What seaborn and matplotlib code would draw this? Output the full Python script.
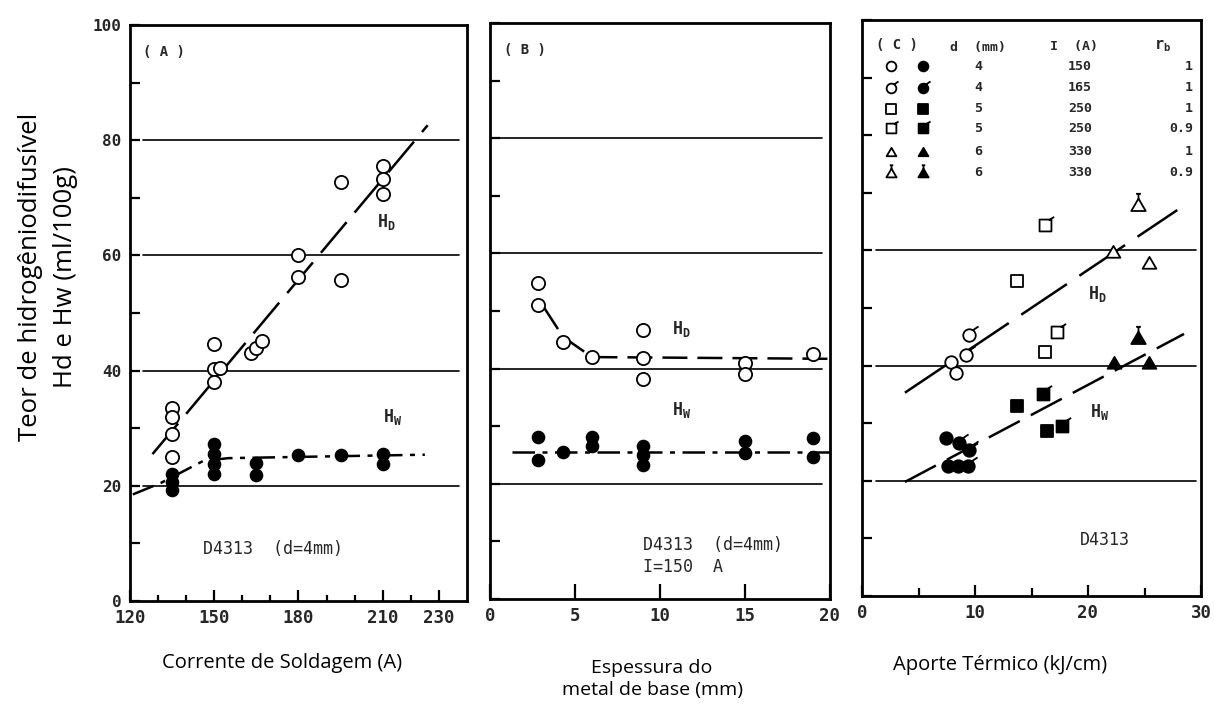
import numpy as np
import pandas as pd
import matplotlib
matplotlib.use("Agg")
import matplotlib.pyplot as plt
import seaborn as sns
from matplotlib.path import Path
from matplotlib.markers import MarkerStyle
from matplotlib.ticker import FixedLocator

# ---------------- Panel A : welding current ----------------
a_hd_x = [135, 135, 135, 135, 150, 150, 150, 152, 163, 165, 167, 180, 180, 195, 195, 210, 210, 210]
a_hd_y = [33.5, 32.0, 29.0, 25.0, 44.7, 40.3, 38.0, 40.5, 43.0, 44.0, 45.2, 60.0, 56.2, 72.8, 55.8, 75.6, 73.3, 70.6]
a_hw_x = [135, 135, 135, 150, 150, 150, 150, 165, 165, 180, 195, 210, 210]
a_hw_y = [22.1, 20.7, 19.3, 27.2, 25.5, 23.8, 22.0, 23.9, 21.9, 25.4, 25.4, 25.6, 23.7]
a_hd_line_x = [128, 226]
a_hd_line_y = [25.5, 82.6]
a_hw_line_x = [121, 131, 146, 155, 225]
a_hw_line_y = [18.5, 20.5, 24.3, 24.8, 25.4]

# ---------------- Panel B : base metal thickness ----------------
b_hd_x = [2.8, 2.8, 4.3, 6.0, 9.0, 9.0, 9.0, 15.0, 15.0, 19.0]
b_hd_y = [54.9, 51.0, 44.7, 42.0, 46.7, 41.8, 38.2, 40.9, 39.1, 42.5]
b_hw_x = [2.8, 2.8, 4.3, 6.0, 6.0, 9.0, 9.0, 9.0, 15.0, 15.0, 19.0, 19.0]
b_hw_y = [28.2, 24.2, 25.6, 28.2, 26.5, 26.5, 25.0, 23.2, 27.4, 25.4, 28.0, 24.7]
b_hd_line_x = [3.2, 4.3, 6.0, 20.0]
b_hd_line_y = [50.5, 45.5, 42.0, 41.7]
b_hw_line_x = [1.3, 20.0]
b_hw_line_y = [25.5, 25.5]

# ---------------- Panel C : heat input ----------------
c_circ_open_x = [7.9, 8.3]
c_circ_open_y = [40.7, 38.8]
c_circtick_open_x = [9.5, 9.2]
c_circtick_open_y = [45.3, 41.9]
c_sq_open_x = [13.7, 16.2]
c_sq_open_y = [54.7, 42.4]
c_sqtick_open_x = [16.2, 17.3]
c_sqtick_open_y = [64.4, 45.8]
c_tri_open_x = [22.2, 25.4]
c_tri_open_y = [59.8, 57.8]
c_tristem_open_x = [24.4]
c_tristem_open_y = [67.9]

c_circ_fill_x = [7.4, 7.6, 8.5]
c_circ_fill_y = [27.4, 22.6, 22.6]
c_circtick_fill_x = [8.6, 9.5, 9.4]
c_circtick_fill_y = [26.5, 25.3, 22.6]
c_sq_fill_x = [13.7, 16.4]
c_sq_fill_y = [33.0, 28.7]
c_sqtick_fill_x = [16.0, 17.7]
c_sqtick_fill_y = [35.0, 29.6]
c_tri_fill_x = [22.3, 25.4]
c_tri_fill_y = [40.5, 40.5]
c_tristem_fill_x = [24.4]
c_tristem_fill_y = [44.8]

c_hd_line_x = [3.8, 27.9]
c_hd_line_y = [35.3, 67.0]
c_hw_line_x = [3.8, 28.5]
c_hw_line_y = [19.8, 45.5]

# legend table of panel C
leg_d = ["4", "4", "5", "5", "6", "6"]
leg_I = ["150", "165", "250", "250", "330", "330"]
leg_rb = ["1", "1", "1", "0.9", "1", "0.9"]

# tick labels
a_xticks = [120, 150, 180, 210, 230]
b_xticks = [0, 5, 10, 15, 20]
c_xticks = [0, 10, 20, 30]
y_ticks = [0, 20, 40, 60, 80, 100]

# ---------------- style ----------------
sns.set_theme(style="white")
plt.rcParams["font.family"] = ["DejaVu Sans"]
plt.rcParams["mathtext.default"] = "regular"

MONO = "DejaVu Sans Mono"
LAB = "Open Sans"

# custom marker paths
M, L, C = Path.MOVETO, Path.LINETO, Path.CLOSEPOLY
circ = Path.unit_circle()
square = Path([(-1, -1), (1, -1), (1, 1), (-1, 1), (-1, -1)], [M, L, L, L, C])
tri = Path([(-1.05, -0.8), (1.05, -0.8), (0, 1.0), (-1.05, -0.8)], [M, L, L, C])
tick = Path([(0.55, 0.85), (1.45, 1.45)], [M, L])
stem = Path([(0, 1.0), (0, 1.7), (-0.35, 1.7), (0.35, 1.7)], [M, L, M, L])

def compound(*ps):
    return Path.make_compound_path(*ps)

circ_tick = compound(circ, tick)
sq_tick = compound(square, tick)
tri_stem = compound(tri, stem)

def mk(p):
    return MarkerStyle(p)

def scat(ax, x, y, path, filled, size, ext=1.0):
    sns.scatterplot(x=x, y=y, ax=ax, marker=mk(path), s=(size * ext) ** 2,
                    color="black", facecolor=("black" if filled else "white"),
                    edgecolor="black", linewidth=1.3, zorder=4, legend=False)

def line(ax, x, y, ls):
    sns.lineplot(x=x, y=y, ax=ax, color="black", linewidth=1.8, linestyle=ls,
                 sort=False, estimator=None, zorder=3, legend=False)

fig = plt.figure(figsize=(12.14, 7.06), dpi=100)
axA = fig.add_axes([130 / 1214, 105 / 706, 337 / 1214, 576 / 706])
axB = fig.add_axes([490 / 1214, 107 / 706, 340 / 1214, 576 / 706])
axC = fig.add_axes([862 / 1214, 110 / 706, 339 / 1214, 576 / 706])

for ax in (axA, axB, axC):
    ax.set_facecolor("white")
    for sp in ax.spines.values():
        sp.set_visible(True)
        sp.set_color("black")
        sp.set_linewidth(2.0)
    ax.set_ylim(0, 100)
    ax.set_yticks(y_ticks)
    ax.yaxis.set_minor_locator(FixedLocator([10, 30, 50, 70, 90]))
    ax.tick_params(axis="y", which="both", direction="in", length=7, width=1.6,
                   color="black", left=True, right=False)
    ax.tick_params(axis="x", which="both", direction="in", width=1.6, color="black",
                   bottom=True, top=False)
    ax.grid(False)

# gridlines
for g in [20, 40, 60, 80]:
    axA.axhline(g, xmin=0.04, xmax=0.975, color="black", lw=1.2, zorder=1)
    axB.axhline(g, xmin=0.03, xmax=0.975, color="black", lw=1.2, zorder=1)
for g in [20, 40, 60]:
    axC.axhline(g, xmin=0.04, xmax=0.985, color="black", lw=1.2, zorder=1)

# ---- Panel A ----
axA.set_xlim(120, 240)
axA.set_xticks(a_xticks)
axA.xaxis.set_minor_locator(FixedLocator([130, 140, 160, 170, 190, 200, 220]))
axA.tick_params(axis="x", which="major", length=8)
axA.tick_params(axis="x", which="minor", length=4)
for t, v in zip(axA.xaxis.get_major_ticks(), a_xticks):
    if v == 230:
        t.tick1line.set_markersize(4)
line(axA, a_hd_line_x, a_hd_line_y, (0, (16, 5)))
line(axA, a_hw_line_x, a_hw_line_y, (0, (9, 3, 2, 3)))
scat(axA, a_hd_x, a_hd_y, circ, False, 9.5)
scat(axA, a_hw_x, a_hw_y, circ, True, 8.5)
axA.text(0.04, 0.965, "( A )", transform=axA.transAxes, family=MONO, weight="bold",
         fontsize=10, va="top")
axA.text(208, 65, "H$_D$", family=MONO, fontsize=12, weight="bold")
axA.text(210, 31, "H$_W$", family=MONO, fontsize=12, weight="bold")
axA.text(146, 9, "D4313  (d=4mm)", family=MONO, fontsize=12, va="center")

# ---- Panel B ----
axB.set_xlim(0, 20)
axB.set_xticks(b_xticks)
axB.tick_params(axis="x", which="major", length=11)
line(axB, b_hd_line_x, b_hd_line_y, (0, (10, 4)))
line(axB, b_hw_line_x, b_hw_line_y, (0, (9, 3, 2, 3)))
scat(axB, b_hd_x, b_hd_y, circ, False, 9.5)
scat(axB, b_hw_x, b_hw_y, circ, True, 8.5)
axB.text(0.04, 0.965, "( B )", transform=axB.transAxes, family=MONO, weight="bold",
         fontsize=10, va="top")
axB.text(10.7, 46, "H$_D$", family=MONO, fontsize=12, weight="bold")
axB.text(10.7, 32, "H$_W$", family=MONO, fontsize=12, weight="bold")
axB.text(9.0, 9.3, "D4313  (d=4mm)", family=MONO, fontsize=12, va="center")
axB.text(9.0, 5.6, "I=150  A", family=MONO, fontsize=12, va="center")

# ---- Panel C ----
axC.set_xlim(0, 30)
axC.set_xticks(c_xticks)
axC.xaxis.set_minor_locator(FixedLocator([5, 15, 25]))
axC.tick_params(axis="x", which="major", length=8)
axC.tick_params(axis="x", which="minor", length=6)
line(axC, c_hd_line_x, c_hd_line_y, (0, (22, 6)))
line(axC, c_hw_line_x, c_hw_line_y, (0, (14, 5)))
S = 9.0
scat(axC, c_circ_open_x, c_circ_open_y, circ, False, S)
scat(axC, c_circtick_open_x, c_circtick_open_y, circ_tick, False, S, 1.45)
scat(axC, c_sq_open_x, c_sq_open_y, square, False, S * 0.95)
scat(axC, c_sqtick_open_x, c_sqtick_open_y, sq_tick, False, S * 0.95, 1.45)
scat(axC, c_tri_open_x, c_tri_open_y, tri, False, S * 1.1)
scat(axC, c_tristem_open_x, c_tristem_open_y, tri_stem, False, S * 1.1, 1.7)
scat(axC, c_circ_fill_x, c_circ_fill_y, circ, True, S)
scat(axC, c_circtick_fill_x, c_circtick_fill_y, circ_tick, True, S, 1.45)
scat(axC, c_sq_fill_x, c_sq_fill_y, square, True, S * 0.95)
scat(axC, c_sqtick_fill_x, c_sqtick_fill_y, sq_tick, True, S * 0.95, 1.45)
scat(axC, c_tri_fill_x, c_tri_fill_y, tri, True, S * 1.1)
scat(axC, c_tristem_fill_x, c_tristem_fill_y, tri_stem, True, S * 1.1, 1.7)
axC.text(20.0, 51.5, "H$_D$", family=MONO, fontsize=12, weight="bold")
axC.text(20.2, 31.0, "H$_W$", family=MONO, fontsize=12, weight="bold")
axC.text(19.3, 9.7, "D4313", family=MONO, fontsize=12, va="center")

# legend table in panel C
axC.text(1.2, 95.6, "( C )", family=MONO, weight="bold", fontsize=10, va="center")
axC.text(7.8, 95.2, "d  (mm)", family=MONO, weight="bold", fontsize=9.5, va="center")
axC.text(16.6, 95.4, "I  (A)", family=MONO, weight="bold", fontsize=9.5, va="center")
axC.text(25.8, 95.4, "r$_b$", family=MONO, weight="bold", fontsize=11, va="center")
leg_paths = [(circ, 1.0), (circ_tick, 1.45), (square, 1.0), (sq_tick, 1.45),
             (tri, 1.0), (tri_stem, 1.7)]
row_y = [92.0, 88.2, 84.6, 81.2, 77.1, 73.5]
for (p, ext), yy, d, I, rb in zip(leg_paths, row_y, leg_d, leg_I, leg_rb):
    scat(axC, [2.6], [yy], p, False, 7.0, ext)
    scat(axC, [5.4], [yy], p, True, 7.0, ext)
    axC.text(10.3, yy, d, family=MONO, fontsize=9.5, weight="bold", ha="center", va="center")
    axC.text(19.3, yy, I, family=MONO, fontsize=9.5, weight="bold", ha="center", va="center")
    axC.text(29.3, yy, rb, family=MONO, fontsize=9.5, weight="bold", ha="right", va="center")

# tick label styling
for ax in (axA, axB, axC):
    for lab in ax.get_xticklabels():
        lab.set_family(MONO)
        lab.set_fontweight("bold")
        lab.set_fontsize(12.5)
    ax.tick_params(axis="x", pad=6)
for lab in axA.get_yticklabels():
    lab.set_family(MONO)
    lab.set_fontweight("bold")
    lab.set_fontsize(11.5)
axA.tick_params(axis="y", pad=6)
axB.tick_params(axis="y", labelleft=False)
axC.tick_params(axis="y", labelleft=False)

# axis titles
axA.set_xlabel("Corrente de Soldagem (A)", family=LAB, fontsize=14.5, color="black")
axA.xaxis.set_label_coords((282 - 130) / 337, (601 - 663) / 576)
axB.set_xlabel("Espessura do\nmetal de base (mm)", family=LAB, fontsize=14, color="black",
               linespacing=1.35)
axB.xaxis.set_label_coords((652 - 490) / 340, (598 - 678) / 576)
axC.set_xlabel("Aporte Térmico (kJ/cm)", family=LAB, fontsize=14.5, color="black")
axC.xaxis.set_label_coords((1000 - 862) / 339, (594 - 663) / 576)
for ax in (axA, axB, axC):
    ax.xaxis.label.set_va("center")
    ax.set_ylabel("")

fig.text(48 / 1214, (706 - 277) / 706, "Teor de hidrogêniodifusível\nHd e Hw (ml/100g)",
         rotation=90, ha="center", va="center", multialignment="center",
         family=LAB, fontsize=18.5, color="black", linespacing=1.55)

fig.savefig("out.png", dpi=100, facecolor="white")
